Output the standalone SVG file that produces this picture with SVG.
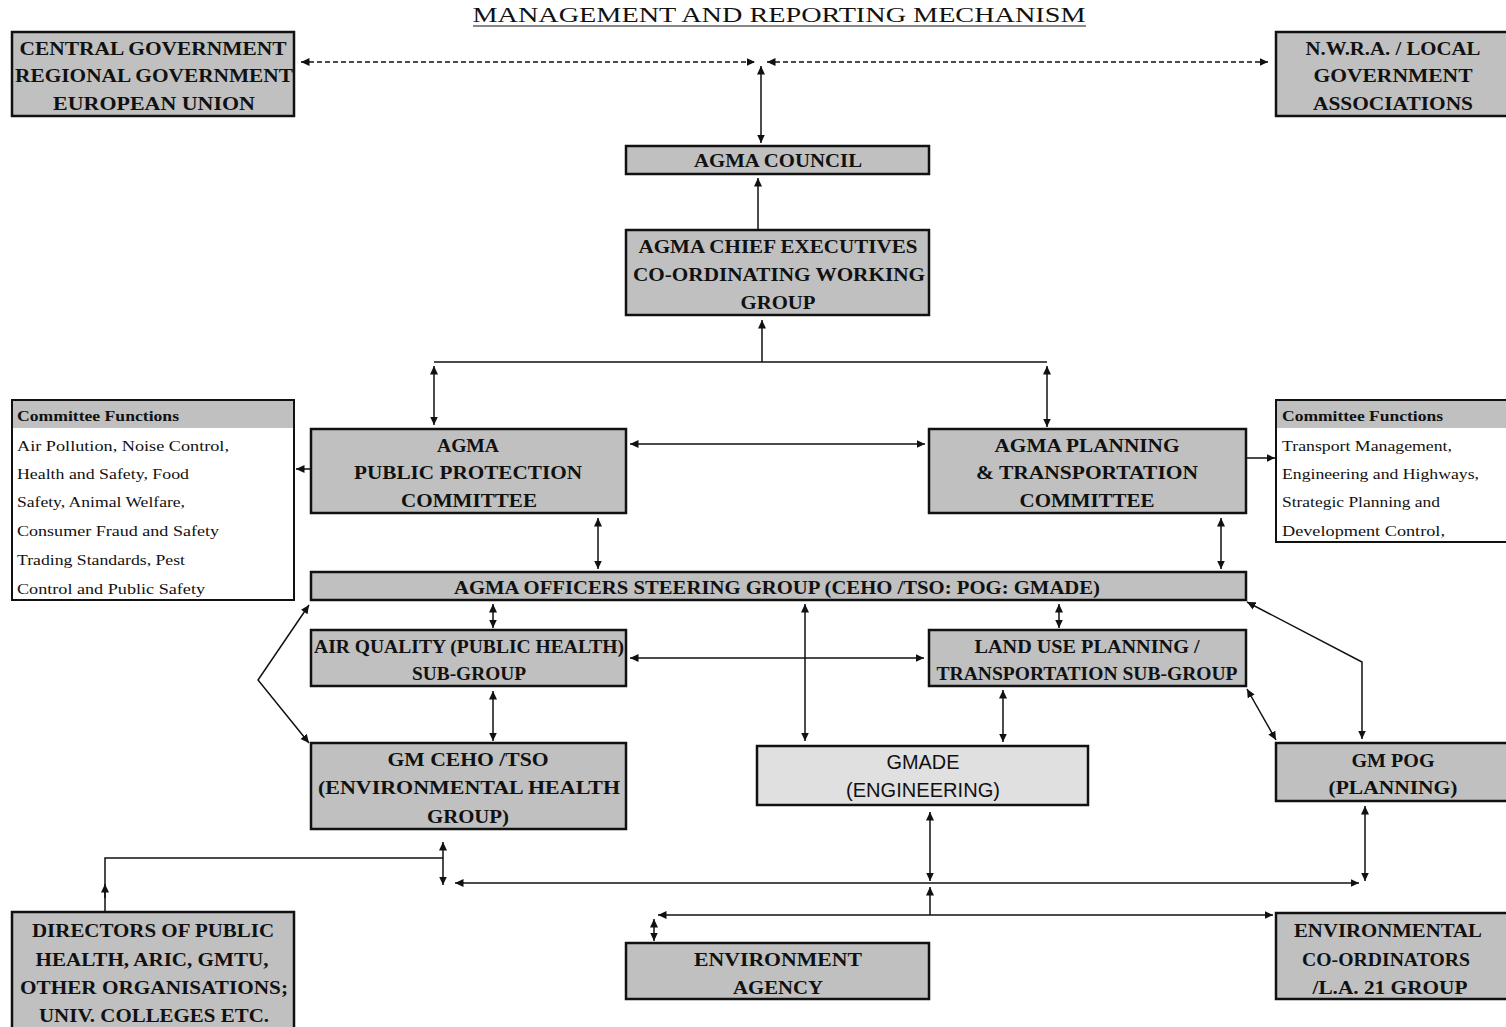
<svg xmlns="http://www.w3.org/2000/svg" width="1506" height="1027" viewBox="0 0 1506 1027">
<style>
.box{fill:#c0c0c0;stroke:#111;stroke-width:2.5}
.lbox{fill:#e0e0e0;stroke:#111;stroke-width:2.5}
.fbox{fill:#fff;stroke:#111;stroke-width:2}
.t{font-family:"Liberation Serif","Times New Roman",serif;font-weight:bold;font-size:19.5px;fill:#111;text-anchor:middle}
.s{font-family:"Liberation Sans","Arial",sans-serif;font-size:20px;fill:#111;text-anchor:middle}
.f{font-family:"Liberation Serif","Times New Roman",serif;font-size:15.5px;fill:#111}
.fh{font-family:"Liberation Serif","Times New Roman",serif;font-weight:bold;font-size:14.5px;fill:#111}
.title{font-family:"Liberation Serif","Times New Roman",serif;font-size:22px;fill:#111;text-anchor:middle}
.c{fill:none;stroke:#111;stroke-width:1.5}
.d{fill:none;stroke:#111;stroke-width:1.3;stroke-dasharray:5,3}
</style>
<defs>
<marker id="a" markerUnits="userSpaceOnUse" markerWidth="10" markerHeight="9" refX="8.5" refY="4.5" orient="auto-start-reverse">
<path d="M0,0.5 L8.5,4.5 L0,8.5 z" fill="#111"/>
</marker>
</defs>
<rect width="1506" height="1027" fill="#fff"/>
<g id="title">
<text class="title" x="779" y="22" textLength="613" lengthAdjust="spacingAndGlyphs">MANAGEMENT AND REPORTING MECHANISM</text>
<line x1="473" y1="26" x2="1086" y2="26" stroke="#111" stroke-width="1.2"/>
</g>
<g id="connectors">
<path class="d" d="M301,62 H755" marker-start="url(#a)" marker-end="url(#a)"/>
<path class="d" d="M767,62 H1268" marker-start="url(#a)" marker-end="url(#a)"/>
<path class="c" d="M761,66 V143" marker-start="url(#a)" marker-end="url(#a)"/>
<path class="c" d="M758,229 V178" marker-end="url(#a)"/>
<path class="c" d="M762,362 V320" marker-end="url(#a)"/>
<path class="c" d="M434,362 H1047"/>
<path class="c" d="M434,366 V425" marker-start="url(#a)" marker-end="url(#a)"/>
<path class="c" d="M1047,366 V427" marker-start="url(#a)" marker-end="url(#a)"/>
<path class="c" d="M630,444 H925" marker-start="url(#a)" marker-end="url(#a)"/>
<path class="c" d="M311,469 H296" marker-end="url(#a)"/>
<path class="c" d="M1247,458 H1275" marker-end="url(#a)"/>
<path class="c" d="M598,518 V569" marker-start="url(#a)" marker-end="url(#a)"/>
<path class="c" d="M1221,518 V569" marker-start="url(#a)" marker-end="url(#a)"/>
<path class="c" d="M493,604 V628" marker-start="url(#a)" marker-end="url(#a)"/>
<path class="c" d="M1059,604 V628" marker-start="url(#a)" marker-end="url(#a)"/>
<path class="c" d="M805,604 V741" marker-start="url(#a)" marker-end="url(#a)"/>
<path class="c" d="M630,658 H924" marker-start="url(#a)" marker-end="url(#a)"/>
<path class="c" d="M493,691 V741" marker-start="url(#a)" marker-end="url(#a)"/>
<path class="c" d="M1003,690 V742" marker-start="url(#a)" marker-end="url(#a)"/>
<path class="c" d="M1247,689 L1276,740" marker-start="url(#a)" marker-end="url(#a)"/>
<path class="c" d="M1362,739 V662 L1247,602" marker-start="url(#a)" marker-end="url(#a)"/>
<path class="c" d="M309,605 L258,680 L309,743" marker-start="url(#a)" marker-end="url(#a)"/>
<path class="c" d="M443,842 V885" marker-start="url(#a)" marker-end="url(#a)"/>
<path class="c" d="M443,858 H105 V912"/>
<path class="c" d="M105,898 V884" marker-end="url(#a)"/>
<path class="c" d="M455,883 H1359" marker-start="url(#a)" marker-end="url(#a)"/>
<path class="c" d="M930,812 V881" marker-start="url(#a)" marker-end="url(#a)"/>
<path class="c" d="M930,915 V887" marker-end="url(#a)"/>
<path class="c" d="M658,915 H1273" marker-start="url(#a)" marker-end="url(#a)"/>
<path class="c" d="M654,919 V941" marker-start="url(#a)" marker-end="url(#a)"/>
<path class="c" d="M1365,806 V881" marker-start="url(#a)" marker-end="url(#a)"/>
</g>
<g id="central-government">
<rect class="box" x="12" y="32" width="282" height="84"/>
<text class="t" x="153" y="55" textLength="267" lengthAdjust="spacingAndGlyphs">CENTRAL GOVERNMENT</text>
<text class="t" x="154" y="82" textLength="278" lengthAdjust="spacingAndGlyphs">REGIONAL GOVERNMENT</text>
<text class="t" x="154" y="110" textLength="202" lengthAdjust="spacingAndGlyphs">EUROPEAN UNION</text>
</g>
<g id="nwra">
<rect class="box" x="1276" y="32" width="236" height="84"/>
<text class="t" x="1393" y="55" textLength="175" lengthAdjust="spacingAndGlyphs">N.W.R.A. / LOCAL</text>
<text class="t" x="1393" y="82" textLength="159" lengthAdjust="spacingAndGlyphs">GOVERNMENT</text>
<text class="t" x="1393" y="110" textLength="160" lengthAdjust="spacingAndGlyphs">ASSOCIATIONS</text>
</g>
<g id="agma-council">
<rect class="box" x="626" y="146" width="303" height="28"/>
<text class="t" x="778" y="167" textLength="168" lengthAdjust="spacingAndGlyphs">AGMA COUNCIL</text>
</g>
<g id="agma-chief">
<rect class="box" x="626" y="230" width="303" height="85"/>
<text class="t" x="778" y="253" textLength="279" lengthAdjust="spacingAndGlyphs">AGMA CHIEF EXECUTIVES</text>
<text class="t" x="779" y="281" textLength="292" lengthAdjust="spacingAndGlyphs">CO-ORDINATING WORKING</text>
<text class="t" x="778" y="309" textLength="75" lengthAdjust="spacingAndGlyphs">GROUP</text>
</g>
<g id="functions-left">
<rect class="fbox" x="12" y="400" width="282" height="200"/>
<rect x="13" y="401" width="280" height="27" fill="#c0c0c0"/>
<text class="fh" x="17" y="421" textLength="162" lengthAdjust="spacingAndGlyphs">Committee Functions</text>
<text class="f" x="17" y="451" textLength="212" lengthAdjust="spacingAndGlyphs">Air Pollution, Noise Control,</text>
<text class="f" x="17" y="479" textLength="172" lengthAdjust="spacingAndGlyphs">Health and Safety, Food</text>
<text class="f" x="17" y="507" textLength="168" lengthAdjust="spacingAndGlyphs">Safety, Animal Welfare,</text>
<text class="f" x="17" y="536" textLength="202" lengthAdjust="spacingAndGlyphs">Consumer Fraud and Safety</text>
<text class="f" x="17" y="565" textLength="168" lengthAdjust="spacingAndGlyphs">Trading Standards, Pest</text>
<text class="f" x="17" y="594" textLength="188" lengthAdjust="spacingAndGlyphs">Control and Public Safety</text>
</g>
<g id="functions-right">
<rect class="fbox" x="1276" y="400" width="236" height="142"/>
<rect x="1277" y="401" width="235" height="27" fill="#c0c0c0"/>
<text class="fh" x="1282" y="421" textLength="161" lengthAdjust="spacingAndGlyphs">Committee Functions</text>
<text class="f" x="1282" y="451" textLength="170" lengthAdjust="spacingAndGlyphs">Transport Management,</text>
<text class="f" x="1282" y="479" textLength="197" lengthAdjust="spacingAndGlyphs">Engineering and Highways,</text>
<text class="f" x="1282" y="507" textLength="158" lengthAdjust="spacingAndGlyphs">Strategic Planning and</text>
<text class="f" x="1282" y="536" textLength="163" lengthAdjust="spacingAndGlyphs">Development Control,</text>
</g>
<g id="public-protection">
<rect class="box" x="311" y="429" width="315" height="84"/>
<text class="t" x="468" y="452" textLength="62" lengthAdjust="spacingAndGlyphs">AGMA</text>
<text class="t" x="468" y="479" textLength="228" lengthAdjust="spacingAndGlyphs">PUBLIC PROTECTION</text>
<text class="t" x="469" y="507" textLength="136" lengthAdjust="spacingAndGlyphs">COMMITTEE</text>
</g>
<g id="planning-transportation">
<rect class="box" x="929" y="429" width="317" height="84"/>
<text class="t" x="1087" y="452" textLength="185" lengthAdjust="spacingAndGlyphs">AGMA PLANNING</text>
<text class="t" x="1087" y="479" textLength="222" lengthAdjust="spacingAndGlyphs">&amp; TRANSPORTATION</text>
<text class="t" x="1087" y="507" textLength="135" lengthAdjust="spacingAndGlyphs">COMMITTEE</text>
</g>
<g id="officers-steering">
<rect class="box" x="311" y="572" width="935" height="28"/>
<text class="t" x="777" y="594" textLength="646" lengthAdjust="spacingAndGlyphs">AGMA OFFICERS STEERING GROUP (CEHO /TSO: POG: GMADE)</text>
</g>
<g id="air-quality">
<rect class="box" x="311" y="630" width="315" height="56"/>
<text class="t" x="469" y="653" textLength="310" lengthAdjust="spacingAndGlyphs">AIR QUALITY (PUBLIC HEALTH)</text>
<text class="t" x="469" y="680" textLength="114" lengthAdjust="spacingAndGlyphs">SUB-GROUP</text>
</g>
<g id="land-use">
<rect class="box" x="929" y="630" width="317" height="56"/>
<text class="t" x="1087" y="653" textLength="225" lengthAdjust="spacingAndGlyphs">LAND USE PLANNING /</text>
<text class="t" x="1087" y="680" textLength="301" lengthAdjust="spacingAndGlyphs">TRANSPORTATION SUB-GROUP</text>
</g>
<g id="gm-ceho">
<rect class="box" x="311" y="743" width="315" height="86"/>
<text class="t" x="468" y="766" textLength="161" lengthAdjust="spacingAndGlyphs">GM CEHO  /TSO</text>
<text class="t" x="469" y="794" textLength="302" lengthAdjust="spacingAndGlyphs">(ENVIRONMENTAL HEALTH</text>
<text class="t" x="468" y="823" textLength="82" lengthAdjust="spacingAndGlyphs">GROUP)</text>
</g>
<g id="gmade">
<rect class="lbox" x="757" y="746" width="331" height="59"/>
<text class="s" x="923" y="769" textLength="73" lengthAdjust="spacingAndGlyphs">GMADE</text>
<text class="s" x="923" y="797" textLength="154" lengthAdjust="spacingAndGlyphs">(ENGINEERING)</text>
</g>
<g id="gm-pog">
<rect class="box" x="1276" y="743" width="236" height="58"/>
<text class="t" x="1393" y="767" textLength="83" lengthAdjust="spacingAndGlyphs">GM POG</text>
<text class="t" x="1393" y="794" textLength="129" lengthAdjust="spacingAndGlyphs">(PLANNING)</text>
</g>
<g id="directors">
<rect class="box" x="12" y="912" width="282" height="120"/>
<text class="t" x="153" y="937" textLength="242" lengthAdjust="spacingAndGlyphs">DIRECTORS OF PUBLIC</text>
<text class="t" x="152" y="966" textLength="233" lengthAdjust="spacingAndGlyphs">HEALTH, ARIC, GMTU,</text>
<text class="t" x="154" y="994" textLength="268" lengthAdjust="spacingAndGlyphs">OTHER ORGANISATIONS;</text>
<text class="t" x="154" y="1022" textLength="230" lengthAdjust="spacingAndGlyphs">UNIV. COLLEGES ETC.</text>
</g>
<g id="environment-agency">
<rect class="box" x="626" y="943" width="303" height="56"/>
<text class="t" x="778" y="966" textLength="168" lengthAdjust="spacingAndGlyphs">ENVIRONMENT</text>
<text class="t" x="778" y="994" textLength="90" lengthAdjust="spacingAndGlyphs">AGENCY</text>
</g>
<g id="env-coordinators">
<rect class="box" x="1276" y="913" width="236" height="86"/>
<text class="t" x="1388" y="937" textLength="188" lengthAdjust="spacingAndGlyphs">ENVIRONMENTAL</text>
<text class="t" x="1386" y="966" textLength="168" lengthAdjust="spacingAndGlyphs">CO-ORDINATORS</text>
<text class="t" x="1390" y="994" textLength="155" lengthAdjust="spacingAndGlyphs">/L.A. 21 GROUP</text>
</g>
</svg>
